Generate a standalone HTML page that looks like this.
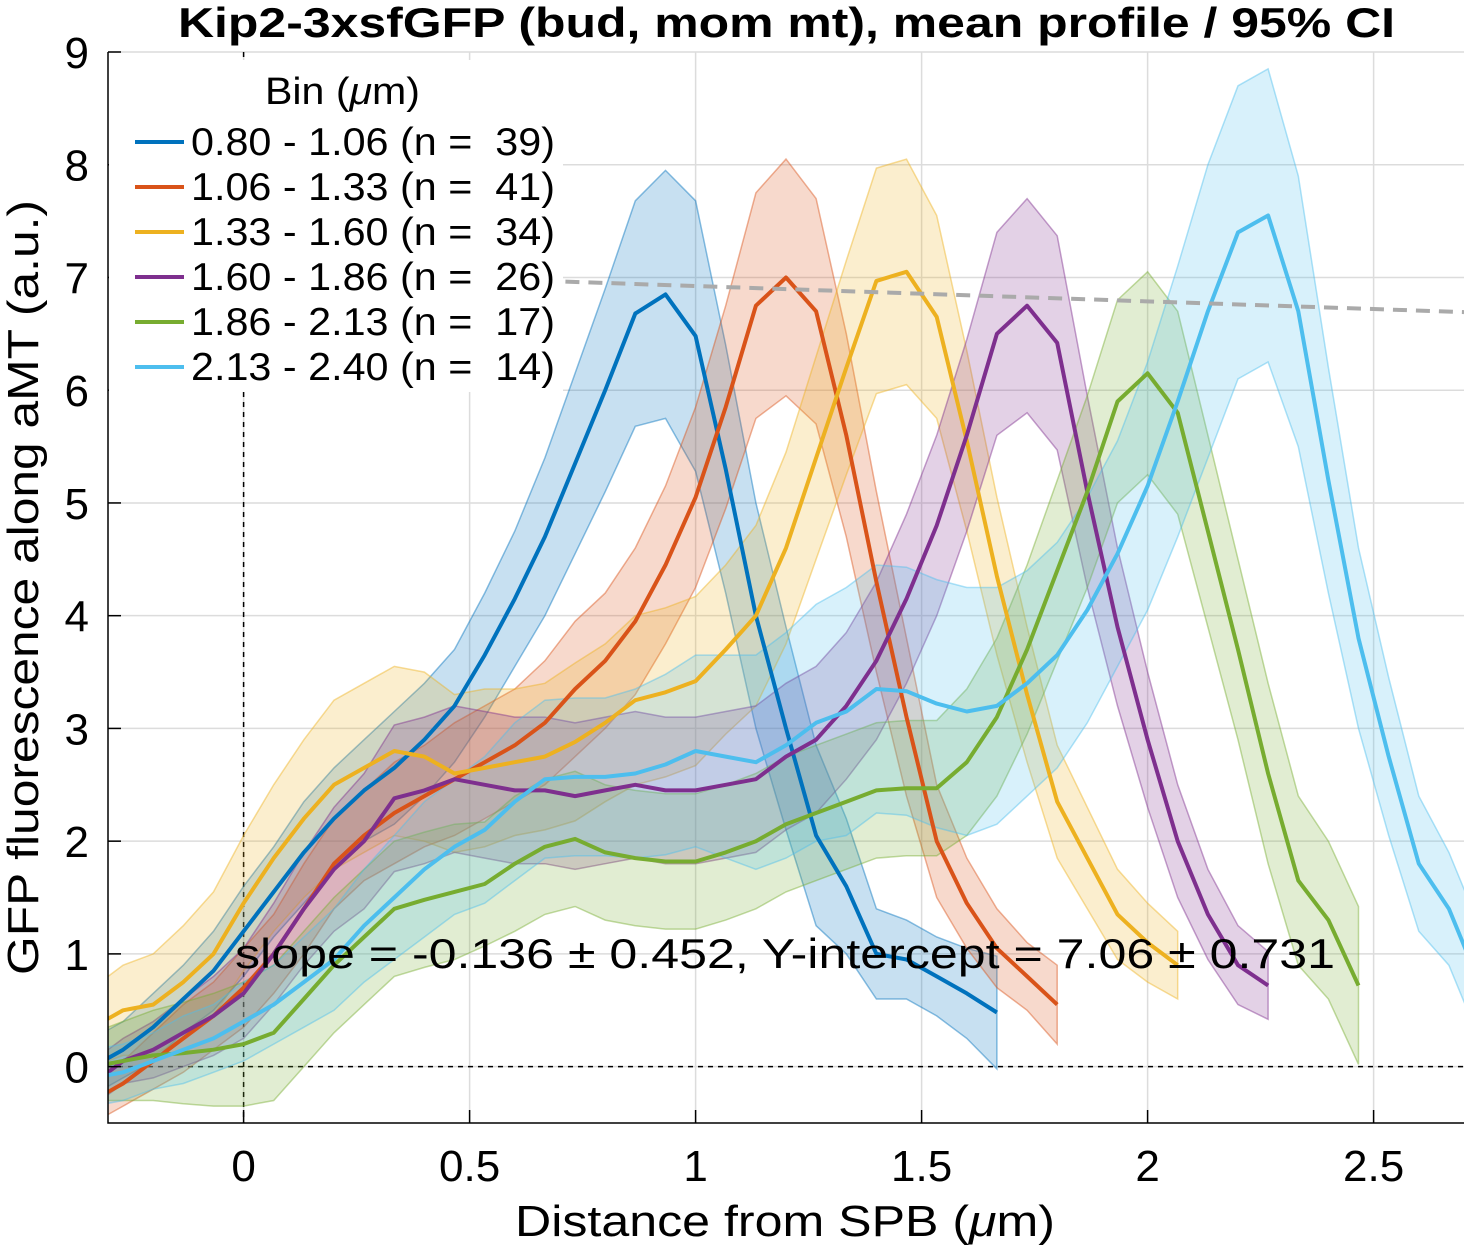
<!DOCTYPE html>
<html><head><meta charset="utf-8"><style>
html,body{margin:0;padding:0;background:#fff}
svg{display:block;font-family:"Liberation Sans",Arial,sans-serif}
</style></head><body>
<svg id="chart" width="1467" height="1248" viewBox="0 0 1467 1248">
<defs><clipPath id="plotclip"><rect x="108" y="52" width="1356" height="1071"/></clipPath></defs>
<g id="grid"></g>
<g id="bands" clip-path="url(#plotclip)"></g>
<g id="lines" clip-path="url(#plotclip)"></g>
<g id="fit" clip-path="url(#plotclip)"></g>
<g id="axes"></g>
<g id="legend"></g>
<text x="178" y="37" font-size="42" font-weight="bold" textLength="1217" lengthAdjust="spacingAndGlyphs">Kip2-3xsfGFP (bud, mom mt), mean profile / 95% CI</text>
<text x="515" y="1236" font-size="44" textLength="540" lengthAdjust="spacingAndGlyphs">Distance from SPB (<tspan font-style="italic">μ</tspan>m)</text>
<text transform="translate(38,975) rotate(-90)" font-size="44" textLength="775" lengthAdjust="spacingAndGlyphs">GFP fluorescence along aMT (a.u.)</text>
<text x="235" y="968" font-size="42" textLength="1100" lengthAdjust="spacingAndGlyphs">slope = -0.136 ± 0.452, Y-intercept = 7.06 ± 0.731</text>
</svg>
<script>
const xTicks=[0,0.5,1,1.5,2,2.5];
const xTickLabels=["0","0.5","1","1.5","2","2.5"];
const yTicks=[0,1,2,3,4,5,6,7,8,9];
const seriesNames=["0.80 - 1.06 (n =  39)","1.06 - 1.33 (n =  41)","1.33 - 1.60 (n =  34)","1.60 - 1.86 (n =  26)","1.86 - 2.13 (n =  17)","2.13 - 2.40 (n =  14)"];
const colors=["#0072BD","#D95319","#EDB120","#7E2F8E","#77AC30","#4DBEEE"];
const xStep=1/15;
const xStartIndex=-5;
const meanBlue=[0.0,0.15,0.35,0.6,0.85,1.2,1.55,1.9,2.2,2.45,2.65,2.9,3.2,3.65,4.15,4.7,5.35,6.0,6.68,6.85,6.48,5.3,4.0,3.0,2.05,1.6,1.0,0.95,0.8,0.65,0.48];
const ciBlue=[0.25,0.25,0.3,0.3,0.35,0.4,0.4,0.45,0.45,0.45,0.5,0.5,0.5,0.55,0.6,0.7,0.8,0.9,1.0,1.1,1.2,1.1,1.0,0.9,0.8,0.6,0.4,0.35,0.35,0.4,0.5];
const meanRed=[-0.3,-0.15,0.05,0.25,0.45,0.7,1.0,1.4,1.8,2.05,2.25,2.4,2.55,2.7,2.85,3.05,3.35,3.6,3.95,4.45,5.05,5.85,6.75,7.0,6.7,5.6,4.3,3.1,2.0,1.45,1.05,0.8,0.55];
const ciRed=[0.2,0.2,0.25,0.3,0.3,0.35,0.35,0.4,0.4,0.4,0.45,0.45,0.5,0.5,0.5,0.55,0.6,0.6,0.65,0.7,0.8,0.9,1.0,1.05,1.0,0.9,0.8,0.7,0.5,0.4,0.35,0.3,0.35];
const meanYellow=[0.35,0.5,0.55,0.75,1.0,1.45,1.85,2.2,2.5,2.65,2.8,2.75,2.6,2.65,2.7,2.75,2.88,3.05,3.25,3.32,3.42,3.7,4.0,4.6,5.4,6.2,6.97,7.05,6.65,5.55,4.35,3.3,2.35,1.85,1.35,1.1,0.9];
const ciYellow=[0.35,0.4,0.45,0.5,0.55,0.6,0.65,0.7,0.75,0.75,0.75,0.75,0.7,0.7,0.65,0.65,0.7,0.7,0.75,0.75,0.75,0.75,0.8,0.85,0.9,0.95,1.0,1.0,0.9,0.8,0.7,0.6,0.5,0.45,0.4,0.35,0.3];
const meanPurple=[-0.15,0.05,0.15,0.3,0.45,0.65,1.0,1.4,1.75,2.0,2.38,2.45,2.55,2.5,2.45,2.45,2.4,2.45,2.5,2.45,2.45,2.5,2.55,2.75,2.9,3.2,3.6,4.15,4.8,5.6,6.5,6.75,6.42,5.1,3.9,2.9,2.0,1.35,0.9,0.72];
const ciPurple=[0.2,0.2,0.25,0.3,0.35,0.4,0.45,0.5,0.55,0.6,0.65,0.65,0.65,0.65,0.65,0.65,0.65,0.65,0.65,0.65,0.65,0.65,0.65,0.65,0.65,0.65,0.7,0.75,0.8,0.85,0.9,0.95,0.95,0.85,0.7,0.6,0.5,0.4,0.35,0.3];
const meanGreen=[0.0,0.05,0.1,0.12,0.15,0.2,0.3,0.6,0.9,1.15,1.4,1.48,1.55,1.62,1.8,1.95,2.02,1.9,1.85,1.82,1.82,1.9,2.0,2.15,2.25,2.35,2.45,2.47,2.47,2.7,3.1,3.7,4.4,5.1,5.9,6.15,5.8,4.75,3.7,2.6,1.65,1.3,0.72];
const ciGreen=[0.3,0.35,0.4,0.45,0.5,0.55,0.6,0.6,0.6,0.6,0.6,0.6,0.6,0.55,0.6,0.6,0.6,0.6,0.6,0.6,0.6,0.6,0.6,0.6,0.6,0.6,0.6,0.6,0.6,0.65,0.7,0.75,0.8,0.85,0.9,0.9,0.9,0.85,0.8,0.8,0.75,0.7,0.7];
const meanCyan=[-0.1,-0.05,0.05,0.15,0.25,0.4,0.55,0.75,0.95,1.25,1.5,1.75,1.95,2.1,2.35,2.55,2.57,2.57,2.6,2.68,2.8,2.75,2.7,2.85,3.05,3.15,3.35,3.33,3.22,3.15,3.2,3.4,3.65,4.05,4.55,5.15,5.9,6.7,7.4,7.55,6.7,5.2,3.8,2.75,1.8,1.4,0.75];
const ciCyan=[0.25,0.25,0.25,0.3,0.3,0.35,0.35,0.4,0.45,0.5,0.55,0.6,0.6,0.65,0.7,0.7,0.7,0.7,0.75,0.8,0.85,0.9,0.95,1.0,1.05,1.1,1.1,1.1,1.1,1.1,1.05,1.0,1.0,1.0,1.0,1.1,1.2,1.3,1.3,1.3,1.2,1.0,0.8,0.7,0.6,0.5,0.5];
const fitSlope=-0.136;
const fitIntercept=7.06;
const means=[meanBlue,meanRed,meanYellow,meanPurple,meanGreen,meanCyan];
const cis=[ciBlue,ciRed,ciYellow,ciPurple,ciGreen,ciCyan];
const seriesKeys=["blue","red","yellow","purple","green","cyan"];

const NS="http://www.w3.org/2000/svg";
const X0=108,X1=1464,Y0=1123,Y1=52;
const xMin=-0.3,xMax=2.7,yMin=-0.5,yMax=9;
const sx=v=>X0+(v-xMin)/(xMax-xMin)*(X1-X0);
const sy=v=>Y0-(v-yMin)/(yMax-yMin)*(Y0-Y1);
function mk(tag,attrs,parent){const e=document.createElementNS(NS,tag);for(const k in attrs)e.setAttribute(k,attrs[k]);parent.appendChild(e);return e;}
const grid=document.getElementById('grid'),bands=document.getElementById('bands'),lines=document.getElementById('lines'),axes=document.getElementById('axes'),legend=document.getElementById('legend'),fit=document.getElementById('fit');
xTicks.forEach((t,i)=>{
  const g=mk('line',{x1:sx(t),x2:sx(t),y1:Y1,y2:Y0,stroke:'#dcdcdc','stroke-width':1.5},grid);
  
  const tk=mk('line',{x1:sx(t),x2:sx(t),y1:Y0,y2:Y0-13,stroke:'#000','stroke-width':1.5},axes);
  
  const lb=mk('text',{x:sx(t),y:1181,'text-anchor':'middle','font-size':44},axes);
  lb.textContent=xTickLabels[i];
  
});
yTicks.forEach(t=>{
  const g=mk('line',{x1:X0,x2:X1,y1:sy(t),y2:sy(t),stroke:'#dcdcdc','stroke-width':1.5},grid);
  
  const tk=mk('line',{x1:X0,x2:X0+13,y1:sy(t),y2:sy(t),stroke:'#000','stroke-width':1.5},axes);
  
  const lb=mk('text',{x:89,y:sy(t)+16,'text-anchor':'end','font-size':44},axes);
  lb.textContent=String(t);
  
});
const z1=mk('line',{x1:sx(0),x2:sx(0),y1:Y1,y2:Y0,stroke:'#000','stroke-width':1.5,'stroke-dasharray':'5,5'},grid);

const z2=mk('line',{x1:X0,x2:X1,y1:sy(0),y2:sy(0),stroke:'#000','stroke-width':1.5,'stroke-dasharray':'5,5'},grid);


means.forEach((m,s)=>{
  const ci=cis[s];
  const xs=m.map((_,i)=>(xStartIndex+i)*xStep);
  const up=m.map((v,i)=>sx(xs[i]).toFixed(1)+','+sy(v+ci[i]).toFixed(1));
  const lo=m.map((v,i)=>sx(xs[i]).toFixed(1)+','+sy(v-ci[i]).toFixed(1)).reverse();
  const b=mk('polygon',{points:up.concat(lo).join(' '),fill:colors[s],'fill-opacity':0.22,stroke:colors[s],'stroke-opacity':0.45,'stroke-width':1.5},bands);
  
  const l=mk('polyline',{points:m.map((v,i)=>sx(xs[i]).toFixed(1)+','+sy(v).toFixed(1)).join(' '),fill:'none',stroke:colors[s],'stroke-width':4,'stroke-linejoin':'round'},lines);
  
});
const fl=mk('line',{x1:sx(0),y1:sy(fitIntercept),x2:sx(xMax),y2:sy(fitIntercept+fitSlope*xMax),stroke:'#aaa','stroke-width':4,'stroke-dasharray':'14,9'},fit);


const ax=mk('path',{d:`M${X0},${Y1} V${Y0} H${X1}`,fill:'none',stroke:'#000','stroke-width':1.5},axes);


const bg=mk('rect',{x:109,y:60,width:454,height:332,fill:'#fff'},legend);

const lt=mk('text',{x:265,y:104,'font-size':38,textLength:155,lengthAdjust:'spacingAndGlyphs'},legend);
lt.innerHTML='Bin (<tspan font-style="italic">μ</tspan>m)';

seriesNames.forEach((n,s)=>{
  const y=142+s*45;
  const g=mk('g',{},legend);
  
  mk('line',{x1:135,x2:184,y1:y,y2:y,stroke:colors[s],'stroke-width':4},g);
  const t=mk('text',{x:191,y:y+13,'font-size':39,textLength:364,lengthAdjust:'spacingAndGlyphs',style:'white-space:pre'},g);
  t.textContent=n;
});
</script>
</body></html>
